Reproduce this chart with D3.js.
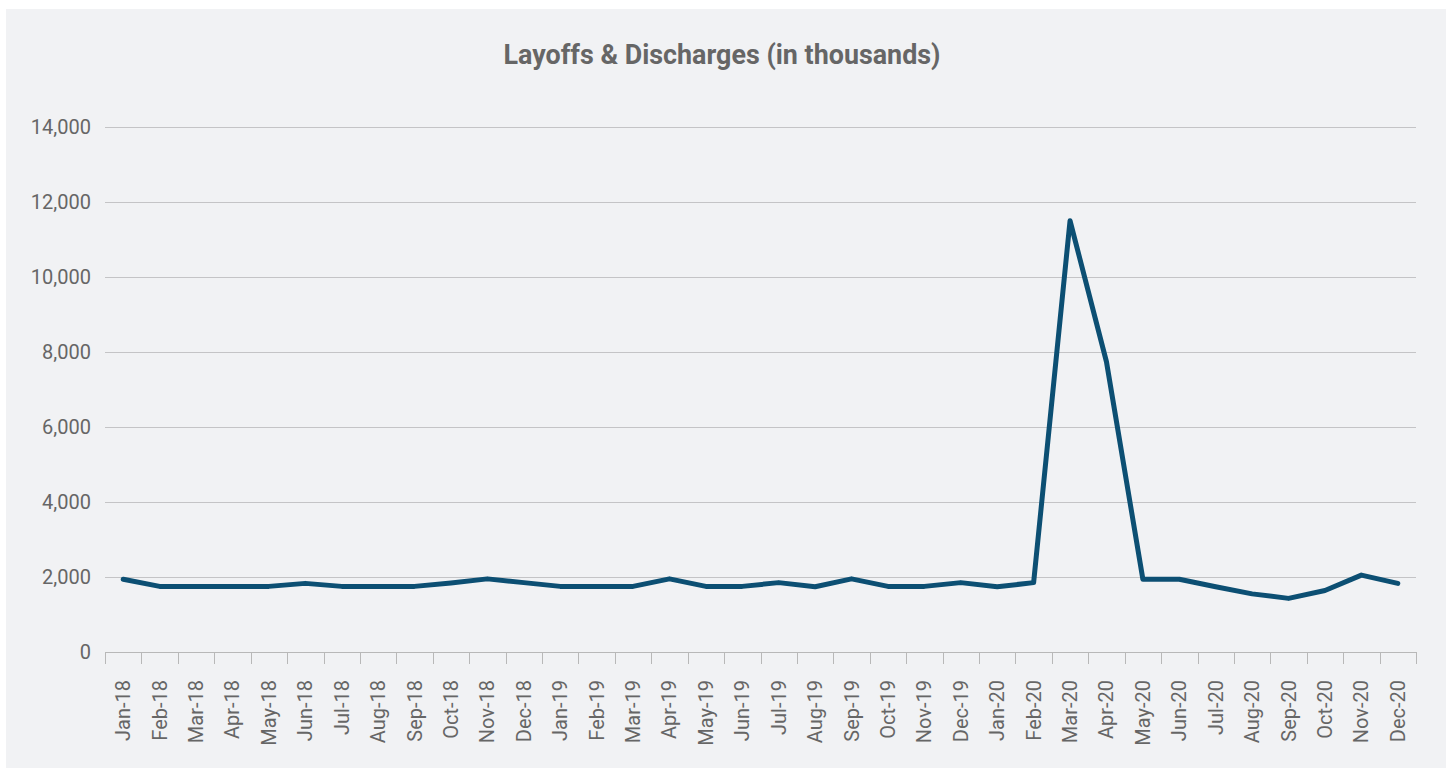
<!DOCTYPE html>
<html>
<head>
    <style>
        body { margin: 0; background: #fff; }
        .title { fill: #666; font-weight: bold; font-family: Roboto, sans-serif; }
        .tick text { fill: #666; font-family: Roboto, sans-serif; }
    </style>
    <script src="https://cdn.jsdelivr.net/npm/d3@7"></script>
</head>
<body>
    <svg width="1449" height="768"></svg>
    <script>
        let months = ["Jan-18","Feb-18","Mar-18","Apr-18","May-18","Jun-18","Jul-18","Aug-18","Sep-18","Oct-18","Nov-18","Dec-18",
                      "Jan-19","Feb-19","Mar-19","Apr-19","May-19","Jun-19","Jul-19","Aug-19","Sep-19","Oct-19","Nov-19","Dec-19",
                      "Jan-20","Feb-20","Mar-20","Apr-20","May-20","Jun-20","Jul-20","Aug-20","Sep-20","Oct-20","Nov-20","Dec-20"];
        let layoffs = [1940,1750,1750,1750,1750,1830,1750,1750,1750,1840,1950,1850,
                       1750,1750,1750,1950,1750,1750,1850,1740,1950,1750,1750,1850,
                       1740,1850,11500,7740,1940,1940,1740,1550,1430,1640,2050,1830];
        let yTicks = [0,2000,4000,6000,8000,10000,12000,14000];

        let svg = d3.select("svg");

        svg.append("rect")
            .attr("x", 6).attr("y", 9)
            .attr("width", 1440).attr("height", 759)
            .attr("fill", "#f1f2f4");

        svg.append("text")
            .attr("class", "title")
            .attr("x", 722).attr("y", 64)
            .attr("text-anchor", "middle")
            .attr("font-size", 28)
            .attr("textLength", 437)
            .attr("lengthAdjust", "spacingAndGlyphs")
            .text("Layoffs & Discharges (in thousands)");

        let x = d3.scaleBand().domain(months).range([105, 1416]);
        let y = d3.scaleLinear().domain([0, 14000]).range([652, 127]);

        // gridlines + y labels
        let yAxis = svg.append("g")
            .attr("transform", "translate(105,0)")
            .call(d3.axisLeft(y).tickValues(yTicks).tickSize(0).tickPadding(14).tickFormat(d3.format(",")));
        yAxis.select(".domain").remove();
        yAxis.selectAll("text").attr("font-size", 20);

        svg.append("g")
            .selectAll("line")
            .data(yTicks.filter(d => d > 0))
            .join("line")
            .attr("x1", 105).attr("x2", 1416)
            .attr("y1", d => y(d) + 0.5).attr("y2", d => y(d) + 0.5)
            .attr("stroke", "#c4c4c6").attr("stroke-width", 1);

        // x axis with boundary ticks
        let xAxis = svg.append("g")
            .attr("transform", "translate(0,652)");
        xAxis.append("line")
            .attr("x1", 105).attr("x2", 1416)
            .attr("y1", 0.5).attr("y2", 0.5)
            .attr("stroke", "#b8b8b8");
        xAxis.selectAll(".bt")
            .data(months.concat(["end"]))
            .join("line")
            .attr("x1", (d, i) => Math.round(105 + i * x.bandwidth()) + 0.5)
            .attr("x2", (d, i) => Math.round(105 + i * x.bandwidth()) + 0.5)
            .attr("y1", 0).attr("y2", 12)
            .attr("stroke", "#b8b8b8");
        xAxis.selectAll(".tick")
            .data(months)
            .join("g")
            .attr("class", "tick")
            .attr("transform", d => "translate(" + (x(d) + x.bandwidth() / 2) + ",28) rotate(-90)")
            .append("text")
            .attr("text-anchor", "end")
            .attr("dy", "0.35em")
            .attr("font-size", 20)
            .text(d => d);

        let line = d3.line()
            .x((d, i) => x(months[i]) + x.bandwidth() / 2)
            .y(d => y(d));

        svg.append("path")
            .datum(layoffs)
            .attr("d", line)
            .attr("fill", "none")
            .attr("stroke", "#0c4f73")
            .attr("stroke-width", 5)
            .attr("stroke-linejoin", "round")
            .attr("stroke-linecap", "round");
    </script>
</body>
</html>
